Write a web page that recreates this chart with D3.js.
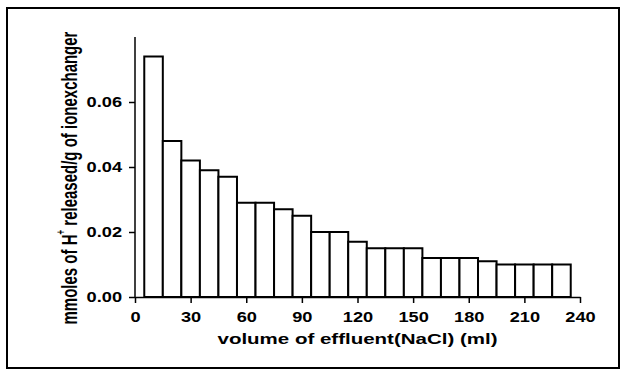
<!DOCTYPE html>
<html>
<head>
<meta charset="utf-8">
<script src="https://cdn.jsdelivr.net/npm/d3@7"></script>
<style>
body { margin: 0; background: #fff; }
svg { display: block; }
</style>
</head>
<body>
<div id="chart"></div>
<script>
var volumes = [10, 20, 30, 40, 50, 60, 70, 80, 90, 100, 110, 120, 130, 140, 150, 160, 170, 180, 190, 200, 210, 220, 230];
var released = [0.074, 0.048, 0.042, 0.039, 0.037, 0.029, 0.029, 0.027, 0.025, 0.020, 0.020, 0.017, 0.015, 0.015, 0.015, 0.012, 0.012, 0.012, 0.011, 0.010, 0.010, 0.010, 0.010];
var xTicks = [0, 30, 60, 90, 120, 150, 180, 210, 240];
var yTicks = [0, 0.02, 0.04, 0.06];
var binWidth = 10;

var width = 625, height = 374,
    margin = {left: 135, right: 45, top: 37, bottom: 77},
    stretch = 1.3; // the original picture is widened a bit

var svg = d3.select('#chart').append('svg')
    .attr('width', width)
    .attr('height', height);

svg.append('rect')
    .attr('x', 7).attr('y', 8)
    .attr('width', 612).attr('height', 360)
    .attr('fill', 'none')
    .attr('stroke', '#000')
    .attr('stroke-width', 2);

var x = d3.scaleLinear().domain([0, 240]).range([margin.left, width - margin.right]);
var y = d3.scaleLinear().domain([0, 0.08]).range([height - margin.bottom, margin.top]);

svg.selectAll('rect.bar').data(volumes)
    .enter().append('rect')
    .attr('class', 'bar')
    .attr('x', function(d) { return x(d - binWidth / 2); })
    .attr('width', function(d) { return x(d + binWidth / 2) - x(d - binWidth / 2); })
    .attr('y', function(d, i) { return y(released[i]); })
    .attr('height', function(d, i) { return y(0) - y(released[i]); })
    .attr('fill', '#fff')
    .attr('stroke', '#000')
    .attr('stroke-width', 2);

var xAxis = svg.append('g')
    .attr('transform', 'translate(0,' + y(0) + ')')
    .call(d3.axisBottom(x).tickValues(xTicks).tickSize(6).tickSizeOuter(0).tickPadding(9));

var yAxis = svg.append('g')
    .attr('transform', 'translate(' + x(0) + ',0)')
    .call(d3.axisLeft(y).tickValues(yTicks).tickSize(6).tickSizeOuter(0).tickPadding(7)
        .tickFormat(d3.format('.2f')));

[xAxis, yAxis].forEach(function(g) {
    g.select('.domain').attr('stroke', '#000').attr('stroke-width', 1.5);
    g.selectAll('.tick line').attr('stroke', '#000').attr('stroke-width', 1.5);
    g.selectAll('.tick text')
        .attr('fill', '#000')
        .style('font-family', 'Liberation Sans, Arial, sans-serif')
        .style('font-weight', 'bold')
        .style('font-size', '14px')
        .each(function() {
            var l = this.getComputedTextLength();
            d3.select(this).attr('textLength', l * stretch).attr('lengthAdjust', 'spacingAndGlyphs');
        });
});
yAxis.select('.domain').attr('d', 'M0,' + y(0) + 'V' + y(0.08));

svg.append('text')
    .attr('x', (x(0) + x(240)) / 2)
    .attr('y', 344)
    .attr('text-anchor', 'middle')
    .attr('textLength', 280)
    .attr('lengthAdjust', 'spacingAndGlyphs')
    .style('font-family', 'Liberation Sans, Arial, sans-serif')
    .style('font-weight', 'bold')
    .style('font-size', '14.5px')
    .text('volume of effluent(NaCl) (ml)');

// y title is a tall condensed face: squeeze along the text, widen across it
var yl = svg.append('g')
    .attr('transform', 'translate(77,178) scale(1.5,1) rotate(-90)')
    .append('text')
    .attr('text-anchor', 'middle')
    .style('font-family', 'Liberation Sans, Arial, sans-serif')
    .style('font-weight', 'bold')
    .style('font-size', '15px');
yl.append('tspan').text('mmoles of H');
yl.append('tspan').attr('dy', -8).style('font-size', '8px').text('+');
yl.append('tspan').attr('dy', 8).text(' released/g of ionexchanger');
</script>
</body>
</html>
